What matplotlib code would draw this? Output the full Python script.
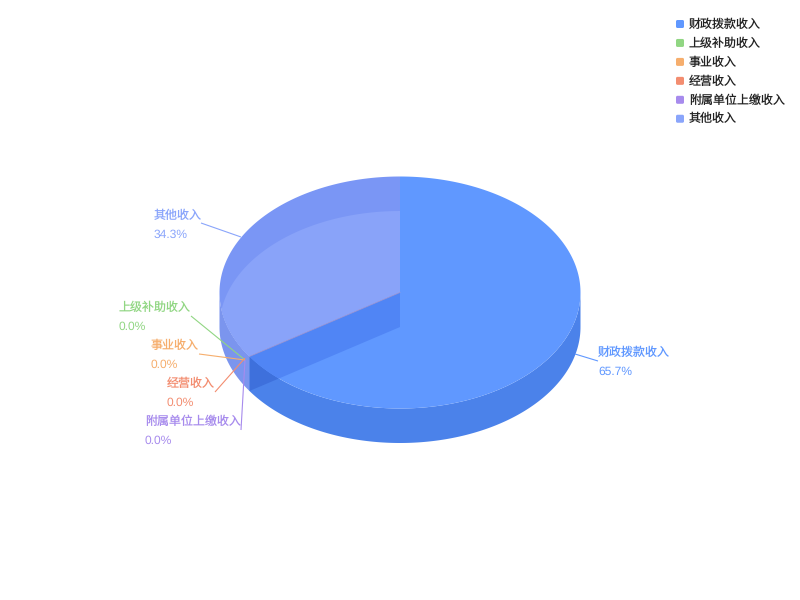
import numpy as np
import matplotlib
matplotlib.use("Agg")
import matplotlib.pyplot as plt
from matplotlib.patches import Polygon, FancyBboxPatch

categories = ["财政拨款收入", "上级补助收入", "事业收入", "经营收入", "附属单位上缴收入", "其他收入"]
values = [65.7, 0.0, 0.0, 0.0, 0.0, 34.3]
colors = ["#6098ff", "#91d683", "#f6ae6d", "#f38d70", "#a78bed", "#8aa5fb"]
label_left = [598, 119, 151, 167, 145, 154]
label_y = [353, 308, 346, 384, 422, 216]
leader_a = [(575, 354), (191, 316), (199, 354), (215, 392), (241, 430), (201, 223)]
leader_b = [(598, 361), (245, 360), (245, 360), (245, 358), (245, 360), (241, 237)]

plt.rcParams["font.family"] = ["Liberation Sans", "Noto Sans CJK SC", "DejaVu Sans"]
plt.rcParams["text.hinting"] = "no_hinting"
plt.rcParams["text.hinting_factor"] = 1
FS = 8.64
fig = plt.figure(figsize=(8, 6), dpi=100)
ax = fig.add_axes([0, 0, 1, 1])
ax.set_xlim(0, 800)
ax.set_ylim(600, 0)
ax.axis("off")

CX, CY, A, B, DEPTH = 400.0, 292.5, 180.5, 116.0, 34.5


def arc(t0, t1, dy=0.0, n=240):
    """Points clockwise from 12 o'clock, t in fraction of the full circle."""
    th = np.linspace(t0, t1, n) * 2 * np.pi
    return np.column_stack([CX + A * np.sin(th), CY + dy - B * np.cos(th)])


def sector(t0, t1, dy=0.0):
    return np.vstack([[CX, CY + dy], arc(t0, t1, dy), [CX, CY + dy]])


total = sum(values)
main_end = values[0] / total
centre = np.array([CX, CY])
edge = arc(main_end, main_end, n=1)[0]

# other-income slice: outer wall, band and lighter face
outer = np.vstack([arc(main_end, 0.75), arc(main_end, 0.75, DEPTH)[::-1]])
ax.add_patch(Polygon(outer, fc="#7b95ee", ec="none", zorder=1))
band = Polygon(sector(main_end, 1.0), fc="#7a96f5", ec="none", zorder=2)
ax.add_patch(band)
low_side = Polygon(sector(main_end, 1.0, DEPTH), fc="#89a3f9", ec="none", zorder=3)
ax.add_patch(low_side)
clip_top = Polygon(sector(main_end, 1.0), transform=ax.transData)
low_side.set_clip_path(clip_top)

# main slice: outer wall, cut wall, top face
side = np.vstack([arc(0.25, main_end), arc(0.25, main_end, DEPTH)[::-1]])
ax.add_patch(Polygon(side, fc="#4b82ea", ec="none", zorder=4))
wall_pts = np.array([centre, edge, edge + [0, DEPTH], centre + [0, DEPTH]])
ax.add_patch(Polygon(wall_pts, fc="#3e70dc", ec="none", zorder=5))
top = Polygon(sector(0, main_end), fc=colors[0], ec="none", zorder=6)
ax.add_patch(top)
wall_top = Polygon(wall_pts, fc="#5085f5", ec="none", zorder=7)
ax.add_patch(wall_top)
wall_top.set_clip_path(Polygon(sector(0, main_end), transform=ax.transData))

# thin seam of the zero-size slices along the boundary
ax.plot([CX, edge[0]], [CY, edge[1]], color="#c09ac0", lw=0.6, alpha=0.6, zorder=8)

# labels and leaders
for name, val, col, x, y, a, b in zip(categories, values, colors, label_left, label_y, leader_a, leader_b):
    ax.plot([a[0], b[0]], [a[1], b[1]], color=col, lw=0.8, zorder=9, solid_capstyle="butt")
    ax.text(x, y, name, color=col, fontsize=FS, ha="left", va="center", zorder=10)
    ax.text(x, y + 19, f"{val:.1f}%", color=col, fontsize=FS, ha="left", va="center", zorder=10)

# legend
for i, (name, col) in enumerate(zip(categories, colors)):
    y = 24 + i * 18.95
    ax.add_patch(FancyBboxPatch((677, y - 3), 6, 6, boxstyle="round,pad=1,rounding_size=1.5",
                                fc=col, ec="none", zorder=10))
    ax.text(689, y + 0.5, name, color="#222222", fontsize=FS, ha="left", va="center", zorder=10)

fig.savefig("out.png", dpi=100, facecolor="white")
